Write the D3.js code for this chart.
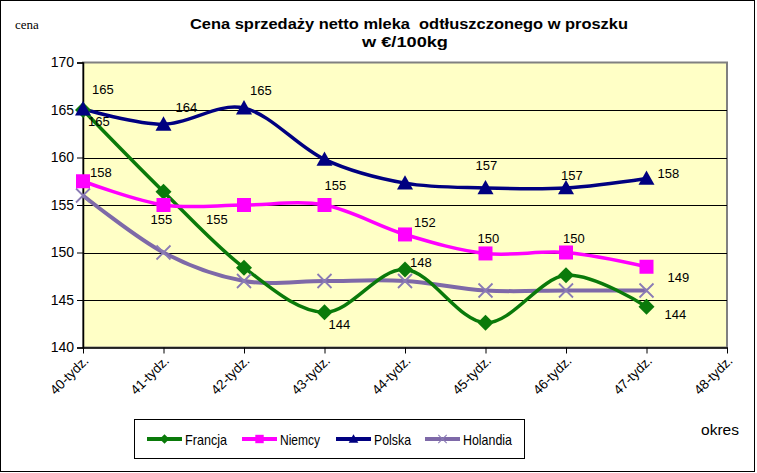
<!DOCTYPE html>
<html><head><meta charset="utf-8">
<script src="https://cdn.jsdelivr.net/npm/d3@7"></script>
<style>body{margin:0;background:#fff}svg{display:block;font-family:"Liberation Sans",Arial,sans-serif}</style>
</head><body>
<svg id="c" width="757" height="473"></svg>
<script>
const categories = ["40-tydz.","41-tydz.","42-tydz.","43-tydz.","44-tydz.","45-tydz.","46-tydz.","47-tydz.","48-tydz."];
const francja  = [165.0,156.4,148.4,143.7,148.2,142.6,147.6,144.3];
const niemcy   = [157.5,155.0,155.0,155.0,151.9,149.9,150.0,148.5];
const polska   = [165.1,163.5,165.2,159.8,157.3,156.8,156.8,157.8];
const holandia = [156.0,150.0,147.0,147.0,147.0,146.0,146.0,146.0];
const yTicks = [140,145,150,155,160,165,170];
const seriesNames = ["Francja","Niemcy","Polska","Holandia"];
const title1 = "Cena sprzedaży netto mleka  odtłuszczonego w proszku";
const title2 = "w €/100kg";

// labels shown: index, text
const labelsPolska  = [[0,"165"],[1,"164"],[2,"165"],[5,"157"],[6,"157"],[7,"158"]];
const labelsNiemcy  = [[0,"158"],[1,"155"],[2,"155"],[3,"155"],[4,"152"],[5,"150"],[6,"150"],[7,"149"]];
const labelsFrancja = [[0,"165"],[3,"144"],[4,"148"],[7,"144"]];

// layout offsets for labels (dx, dy baseline)
const offPolska  = [[9,-15],[12,-12],[6,-13],[-10,-18],[-5,-8],[11,0]];
const offNiemcy  = [[7,-4],[-13,19],[-38,19],[0,-15],[9,-7],[-8,-10],[-3,-10],[21,15]];
const offFrancja = [[5,16],[4,17],[5,-3],[18,12]];

const svg = d3.select("#c");
const L=83,R=727,T=62.5,B=347.5;
const x = d3.scalePoint().domain(categories).range([L,R]);
const y = d3.scaleLinear().domain([140,170]).range([B,T]);

// outer border
svg.append("rect").attr("x",0.5).attr("y",0.5).attr("width",754).attr("height",471)
  .attr("fill","#fff").attr("stroke","#000");

// plot bg
svg.append("rect").attr("x",L).attr("y",T).attr("width",R-L).attr("height",B-T)
  .attr("fill","#FFFFC6").attr("stroke","#808080").attr("stroke-width",2);

// gridlines
svg.append("g").selectAll("line").data(yTicks.filter(v=>v>140&&v<170)).join("line")
  .attr("x1",L).attr("x2",R).attr("y1",d=>Math.round(y(d))+0.5).attr("y2",d=>Math.round(y(d))+0.5)
  .attr("stroke","#000").attr("stroke-width",1);

// y axis
const ya = svg.append("g").attr("transform",`translate(${L},0)`)
  .call(d3.axisLeft(y).tickValues(yTicks).tickSize(6).tickPadding(3).tickFormat(d3.format("d")));
ya.select(".domain").attr("stroke","#000").attr("stroke-width",1.5);
ya.selectAll("text").attr("font-size",14).attr("fill","#000").attr("font-family","Liberation Sans, Arial");

// x axis
const xa = svg.append("g").attr("transform",`translate(0,${B})`)
  .call(d3.axisBottom(x).tickSize(6).tickSizeOuter(0));
xa.select(".domain").attr("stroke","#000").attr("stroke-width",1.5);
xa.selectAll("text").attr("font-size",13.5).attr("fill","#000").attr("font-family","Liberation Sans, Arial")
  .attr("text-anchor","end").attr("dy",0).attr("y",0)
  .attr("transform","translate(6,14) rotate(-45)");

const curve = d3.curveCatmullRom.alpha(0);
const line = d3.line().x((d,i)=>x(categories[i])).y(d=>y(d)).curve(curve);

const styles = {
  Francja:{color:"#0A7A0A",w:3.5},
  Niemcy:{color:"#FF00FF",w:3.5},
  Polska:{color:"#000080",w:3.5},
  Holandia:{color:"#7E69A8",w:4}
};
const dataMap = {Francja:francja,Niemcy:niemcy,Polska:polska,Holandia:holandia};
const drawOrder = ["Holandia","Francja","Niemcy","Polska"];

function marker(g, name, cx, cy, scale){
  const s = scale||1;
  const c = styles[name].color;
  if(name==="Francja"){
    const r=8*s;
    g.append("path").attr("d",`M${cx},${cy-r}L${cx+r},${cy}L${cx},${cy+r}L${cx-r},${cy}Z`).attr("fill",c);
  } else if(name==="Niemcy"){
    const r=7*s;
    g.append("rect").attr("x",cx-r).attr("y",cy-r).attr("width",2*r).attr("height",2*r).attr("fill",c);
  } else if(name==="Polska"){
    const r=8*s;
    g.append("path").attr("d",`M${cx},${cy-r}L${cx+r},${cy+r*0.8}L${cx-r},${cy+r*0.8}Z`).attr("fill",c);
  } else {
    const r=7*s;
    g.append("path").attr("d",`M${cx-r},${cy-r}L${cx+r},${cy+r}M${cx+r},${cy-r}L${cx-r},${cy+r}`)
      .attr("stroke","#8A7BB5").attr("stroke-width",1.8*s).attr("fill","none");
  }
}

drawOrder.forEach(name=>{
  const vals = dataMap[name];
  svg.append("path").datum(vals).attr("d",line).attr("fill","none")
    .attr("stroke",styles[name].color).attr("stroke-width",styles[name].w)
    .attr("stroke-linejoin","round");
});
drawOrder.forEach(name=>{
  const vals = dataMap[name];
  const g = svg.append("g");
  vals.forEach((v,i)=>marker(g,name,x(categories[i]),y(v),1));
});

function drawLabels(vals, labels, offs){
  const g = svg.append("g");
  labels.forEach((lb,k)=>{
    const [i,t]=lb;
    g.append("text").attr("x",x(categories[i])+offs[k][0]).attr("y",y(vals[i])+offs[k][1])
      .attr("font-size",13).attr("fill","#000").text(t);
  });
}
drawLabels(polska,labelsPolska,offPolska);
drawLabels(niemcy,labelsNiemcy,offNiemcy);
drawLabels(francja,labelsFrancja,offFrancja);

// title
svg.append("text").attr("x",190).attr("y",29).attr("textLength",438).attr("lengthAdjust","spacingAndGlyphs")
  .style("white-space","pre").attr("font-weight","bold").attr("font-size",15.5).text(title1);
svg.append("text").attr("x",362).attr("y",47).attr("textLength",86).attr("lengthAdjust","spacingAndGlyphs")
  .attr("font-weight","bold").attr("font-size",15.5).text(title2);

// axis titles
svg.append("text").attr("x",15).attr("y",29).attr("font-family","Liberation Serif, Times New Roman, serif")
  .attr("font-size",13).text("cena");
svg.append("text").attr("x",701).attr("y",435).attr("font-size",15)
  .attr("textLength",38).attr("lengthAdjust","spacingAndGlyphs").text("okres");

// legend
svg.append("rect").attr("x",134.5).attr("y",419.5).attr("width",390).attr("height",39)
  .attr("fill","#fff").attr("stroke","#000");
const legX = [147,242,336,425];
const legW = [42,40,37,49];
seriesNames.forEach((name,k)=>{
  const g = svg.append("g");
  const x0 = legX[k], cy=439;
  g.append("line").attr("x1",x0).attr("x2",x0+35).attr("y1",cy).attr("y2",cy)
    .attr("stroke",styles[name].color).attr("stroke-width",4);
  marker(g,name,x0+17.5,cy,0.6);
  g.append("text").attr("x",x0+38).attr("y",cy+5.5).attr("font-size",14.5)
    .attr("textLength",legW[k]).attr("lengthAdjust","spacingAndGlyphs").text(name);
});
</script>
</body></html>
